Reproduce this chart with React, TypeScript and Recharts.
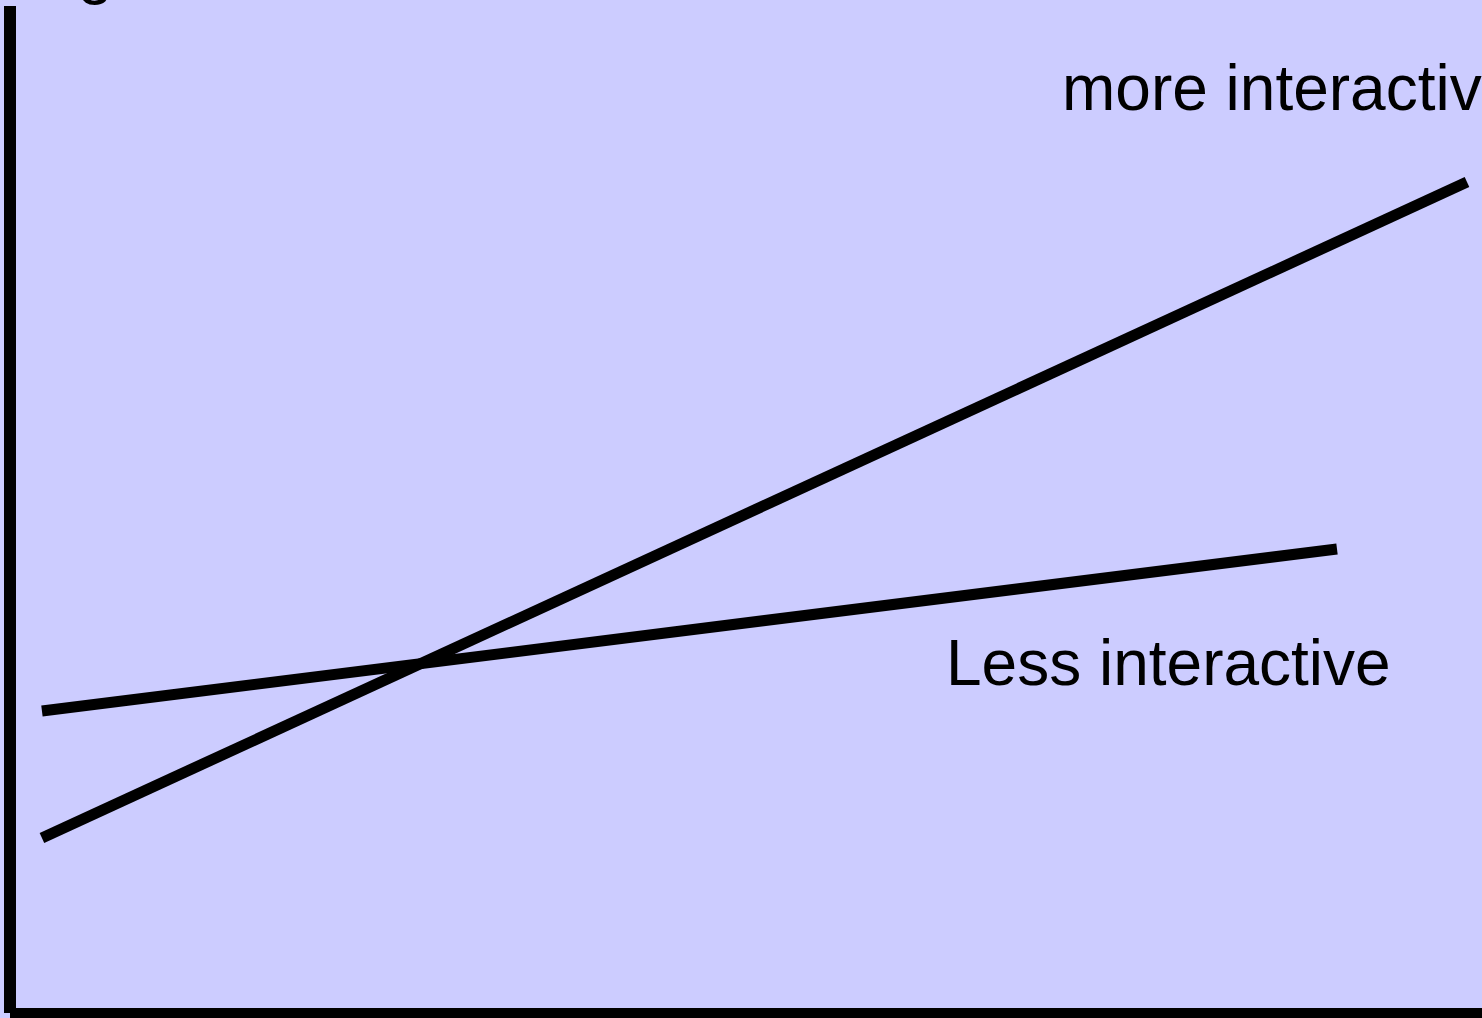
import React from 'react';
import { LineChart, Line, XAxis, YAxis, Customized } from 'recharts';

const moreInteractive = [
  { x: 2.17, y: 17.38 },
  { x: 98.98, y: 82.52 },
];
const lessInteractive = [
  { x: 2.17, y: 29.99 },
  { x: 90.15, y: 46.08 },
];
const labelMore = 'more interactive';
const labelLess = 'Less interactive';
const labelTop = 'High';

const FONT = '"Liberation Sans", Arial, sans-serif';

export default function App() {
  return (
    <div style={{ position: 'absolute', left: 0, top: 0, width: 1482, height: 1018, background: '#CCCCFF', overflow: 'hidden' }}>
      <LineChart width={1482} height={1018} margin={{ top: 6, right: 0, bottom: 4, left: 9 }}>
        <XAxis type="number" dataKey="x" domain={[0, 100]} height={1} tick={false} tickLine={false}
          axisLine={{ stroke: '#000', strokeWidth: 10 }} allowDataOverflow />
        <YAxis type="number" dataKey="y" domain={[0, 100]} width={1} tick={false} tickLine={false}
          axisLine={{ stroke: '#000', strokeWidth: 12 }} allowDataOverflow />
        <Line data={moreInteractive} dataKey="y" stroke="#000" strokeWidth={11} dot={false} activeDot={false} isAnimationActive={false} />
        <Line data={lessInteractive} dataKey="y" stroke="#000" strokeWidth={11} dot={false} activeDot={false} isAnimationActive={false} />
        <Customized component={() => (
          <g fontFamily={FONT} fontSize={64} fill="#000">
            <text x={1062} y={110}>{labelMore}</text>
            <text x={946} y={685}>{labelLess}</text>
            <text x={17} y={-8}>{labelTop}</text>
          </g>
        )} />
      </LineChart>
    </div>
  );
}
